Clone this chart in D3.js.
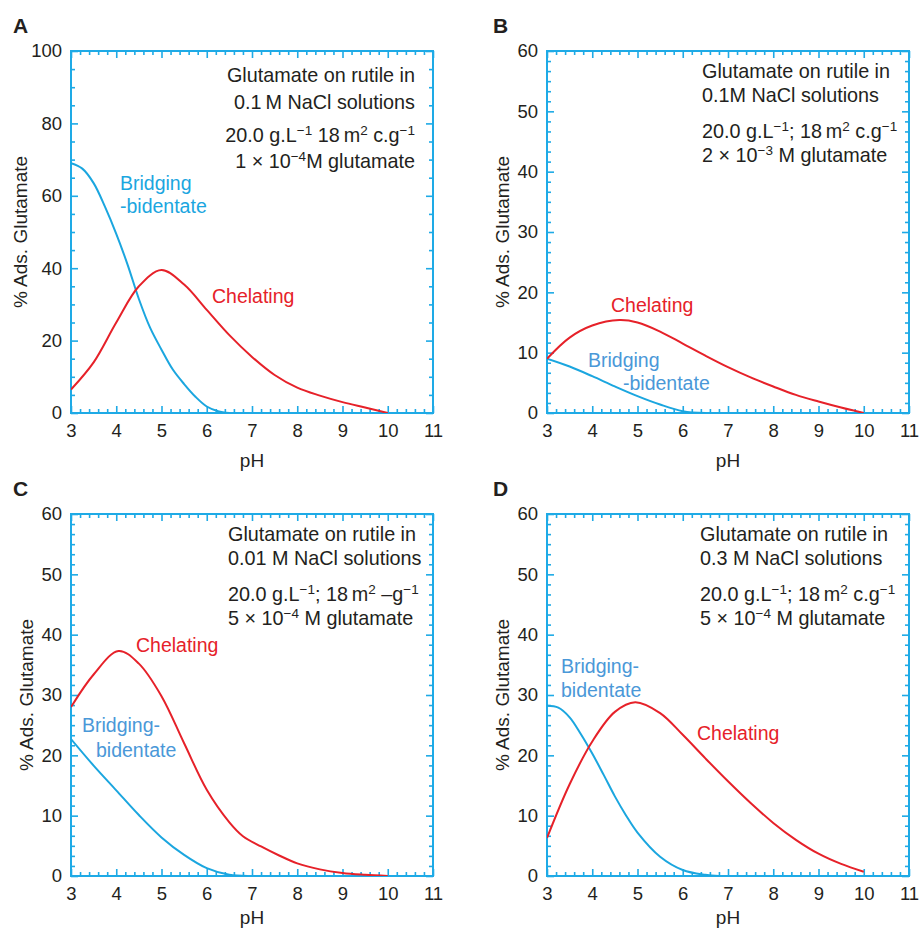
<!DOCTYPE html>
<html>
<head>
<title>Glutamate on rutile</title>
<style>
  body { margin: 0; background: #fff; }
  text { font-family: "Liberation Sans", Arial, sans-serif; fill: #231f20; }
</style>
</head>
<body>
<script src="https://cdn.jsdelivr.net/npm/d3@7/dist/d3.min.js"></script>
<script>
// values: [pH, % adsorbed]
var bridgingA = [[3,69],[3.25,67.5],[3.5,63.5],[3.75,57],[4,49.5],[4.25,41],[4.5,31.5],[4.75,23.5],[5,17.5],[5.25,12],[5.5,8],[5.75,4.5],[6,1.8],[6.25,0.5],[6.5,0]];
var chelatingA = [[3,6.5],[3.5,14],[4,25],[4.5,35],[5,39.5],[5.5,35.5],[6,28.5],[6.5,21.5],[7,15.5],[7.5,10.5],[8,7],[8.5,4.8],[9,3],[9.5,1.5],[10,0]];
var bridgingB = [[3,9],[3.5,7.7],[4,6.1],[4.5,4.4],[5,2.8],[5.5,1.4],[6,0.3],[6.5,0]];
var chelatingB = [[3,9],[3.5,12.5],[4,14.5],[4.6,15.4],[5,15],[5.5,13.5],[6,11.5],[6.5,9.5],[7,7.6],[7.5,5.9],[8,4.4],[8.5,3],[9,1.9],[9.5,0.9],[10,0]];
var bridgingC = [[3,22.7],[3.5,18.3],[4,14.2],[4.5,10.1],[5,6.4],[5.5,3.5],[6,1.3],[6.5,0.2],[6.9,0]];
var chelatingC = [[3,28],[3.5,33.4],[4.05,37.3],[4.5,35.2],[5,29.8],[5.5,22],[6,14.3],[6.5,8.9],[6.8,6.6],[7.2,4.9],[7.6,3.4],[8,2.1],[8.5,1.1],[9,0.5],[9.5,0.2],[10,0]];
var bridgingD = [[3,28.2],[3.25,27.9],[3.5,26.3],[3.75,23.5],[4,20.3],[4.25,16.8],[4.5,13.2],[4.75,10],[5,7.2],[5.5,3.2],[6,1],[6.5,0.2],[6.8,0]];
var chelatingD = [[3,6.3],[3.5,15.2],[4,22.3],[4.5,27.2],[4.95,28.8],[5.5,27],[6,23.4],[6.5,19.5],[7,15.7],[7.5,12.1],[8,8.8],[8.5,6],[9,3.7],[9.5,2],[10,0.7]];

var xTicks = [3,4,5,6,7,8,9,10,11];
var yTicksA = [0,20,40,60,80,100];
var yTicks = [0,10,20,30,40,50,60];

var notesA = ["Glutamate on rutile in", "0.1\u2009M NaCl solutions", "20.0 g.L^{\u22121} 18\u2009m^{2} c.g^{\u22121}", "1 \u00d7 10^{\u22124}M glutamate"];
var notesB = ["Glutamate on rutile in", "0.1M NaCl solutions", "20.0 g.L^{\u22121}; 18\u2009m^{2} c.g^{\u22121}", "2 \u00d7 10^{\u22123} M glutamate"];
var notesC = ["Glutamate on rutile in", "0.01 M NaCl solutions", "20.0 g.L^{\u22121}; 18\u2009m^{2} \u2013g^{\u22121}", "5 \u00d7 10^{\u22124} M glutamate"];
var notesD = ["Glutamate on rutile in", "0.3 M NaCl solutions", "20.0 g.L^{\u22121}; 18\u2009m^{2} c.g^{\u22121}", "5 \u00d7 10^{\u22124} M glutamate"];

var frameBlue = "#1eaae6", lineBlue = "#1ba6df", red = "#e62129", labelBlue = "#4a98d8";
var size = 362;

var svg = d3.select("body").append("svg").attr("width", 921).attr("height", 928);

var panels = [
  {id: "A", left: 71, top: 51, yTicks: yTicksA, yMinor: 5, bridging: bridgingA, chelating: chelatingA,
   notes: notesA, anchor: "end", noteX: 344, noteY: [31, 58, 91, 117], titleX: -44, phY: 54,
   labels: [["Bridging", 49, 139, "b"], ["-bidentate", 49, 162, "b"], ["Chelating", 141, 252, "c"]], bridgeColor: lineBlue},
  {id: "B", left: 547, top: 51, yTicks: yTicks, yMinor: 10 / 6, bridging: bridgingB, chelating: chelatingB,
   notes: notesB, anchor: "start", noteX: 155, noteY: [27, 51, 87, 111], titleX: -38, phY: 54,
   labels: [["Chelating", 64, 261, "c"], ["Bridging", 41, 316, "b"], ["-bidentate", 76, 339, "b"]], bridgeColor: labelBlue},
  {id: "C", left: 71, top: 514, yTicks: yTicks, yMinor: 10 / 6, bridging: bridgingC, chelating: chelatingC,
   notes: notesC, anchor: "start", noteX: 157, noteY: [27, 51, 87, 111], titleX: -38, phY: 48,
   labels: [["Chelating", 65, 138, "c"], ["Bridging-", 11, 218, "b"], ["bidentate", 25, 243, "b"]], bridgeColor: labelBlue},
  {id: "D", left: 547, top: 514, yTicks: yTicks, yMinor: 10 / 6, bridging: bridgingD, chelating: chelatingD,
   notes: notesD, anchor: "start", noteX: 153, noteY: [27, 51, 87, 111], titleX: -38, phY: 48,
   labels: [["Bridging-", 14, 159, "b"], ["bidentate", 14, 183, "b"], ["Chelating", 150, 226, "c"]], bridgeColor: labelBlue}
];

function range(a, b, step) {
  var out = [];
  for (var i = 0; a + i * step <= b + 1e-9; i++) out.push(+(a + i * step).toFixed(4));
  return out;
}

function styleAxis(g) {
  g.select(".domain").remove();
  g.selectAll(".tick line").attr("stroke", frameBlue).attr("stroke-width", 1.6);
  g.selectAll(".tick text").style("font-family", '"Liberation Sans", Arial, sans-serif')
    .style("font-size", "18.5px").attr("fill", "#231f20");
}

function addText(sel, str) {
  var parts = str.split(/\^\{([^}]*)\}/);
  var raised = false;
  parts.forEach(function(p, i) {
    if (p === "") return;
    var sup = i % 2 === 1;
    var t = sel.append("tspan").text(p);
    if (sup) { t.attr("font-size", 13.5).attr("dy", -7); raised = true; }
    else if (raised) { t.attr("dy", 7); raised = false; }
  });
}

panels.forEach(function(p) {
  var x = d3.scaleLinear().domain([3, 11]).range([0, size]);
  var yMax = p.yTicks[p.yTicks.length - 1];
  var y = d3.scaleLinear().domain([0, yMax]).range([size, 0]);
  var g = svg.append("g").attr("transform", "translate(" + p.left + "," + p.top + ")");

  svg.append("clipPath").attr("id", "clip" + p.id)
    .append("rect").attr("x", p.left).attr("y", p.top - 5).attr("width", size).attr("height", size + 5);

  var xMinor = range(3, 11, 0.2).filter(function(v) { return Math.abs(v - Math.round(v)) > 1e-6; });
  var yMinor = range(0, yMax, p.yMinor).filter(function(v) { return p.yTicks.indexOf(v) < 0; });

  // bottom
  g.append("g").attr("transform", "translate(0," + size + ")")
    .call(d3.axisBottom(x).tickValues(xTicks).tickSize(-7).tickPadding(11).tickFormat(d3.format("d"))).call(styleAxis);
  g.append("g").attr("transform", "translate(0," + size + ")")
    .call(d3.axisBottom(x).tickValues(xMinor).tickSize(-4).tickFormat("")).call(styleAxis);
  // top
  g.append("g").call(d3.axisTop(x).tickValues(xTicks).tickSize(-7).tickFormat("")).call(styleAxis);
  g.append("g").call(d3.axisTop(x).tickValues(xMinor).tickSize(-4).tickFormat("")).call(styleAxis);
  // left
  g.append("g").call(d3.axisLeft(y).tickValues(p.yTicks).tickSize(-7).tickPadding(9).tickFormat(d3.format("d"))).call(styleAxis);
  g.append("g").call(d3.axisLeft(y).tickValues(yMinor).tickSize(-4).tickFormat("")).call(styleAxis);
  // right
  g.append("g").attr("transform", "translate(" + size + ",0)")
    .call(d3.axisRight(y).tickValues(p.yTicks).tickSize(-7).tickFormat("")).call(styleAxis);
  g.append("g").attr("transform", "translate(" + size + ",0)")
    .call(d3.axisRight(y).tickValues(yMinor).tickSize(-4).tickFormat("")).call(styleAxis);

  g.append("rect").attr("width", size).attr("height", size)
    .attr("fill", "none").attr("stroke", frameBlue).attr("stroke-width", 2);

  var line = d3.line().x(function(d) { return x(d[0]); }).y(function(d) { return y(d[1]); })
    .curve(d3.curveCatmullRom.alpha(0.5));

  var curves = svg.append("g").attr("clip-path", "url(#clip" + p.id + ")")
    .append("g").attr("transform", "translate(" + p.left + "," + p.top + ")");
  curves.append("path").datum(p.bridging).attr("d", line)
    .attr("fill", "none").attr("stroke", lineBlue).attr("stroke-width", 2);
  curves.append("path").datum(p.chelating).attr("d", line)
    .attr("fill", "none").attr("stroke", red).attr("stroke-width", 2);

  p.labels.forEach(function(l) {
    g.append("text").attr("x", l[1]).attr("y", l[2]).style("font-size", "19.5px")
      .style("fill", l[3] === "c" ? red : p.bridgeColor).text(l[0]);
  });

  p.notes.forEach(function(n, i) {
    var t = g.append("text").attr("x", p.noteX).attr("y", p.noteY[i])
      .attr("text-anchor", p.anchor).style("font-size", "19.8px");
    addText(t, n);
  });

  g.append("text").attr("transform", "translate(" + p.titleX + "," + (size / 2) + ") rotate(-90)")
    .attr("text-anchor", "middle").style("font-size", "19px").text("% Ads. Glutamate");
  g.append("text").attr("x", size / 2).attr("y", size + p.phY)
    .attr("text-anchor", "middle").style("font-size", "19px").text("pH");

  svg.append("text").attr("x", p.left - 58 + (p.left > 100 ? 4 : 0)).attr("y", p.top - 18)
    .style("font-size", "21px").style("font-weight", "bold").text(p.id);
});
</script>
</body>
</html>
